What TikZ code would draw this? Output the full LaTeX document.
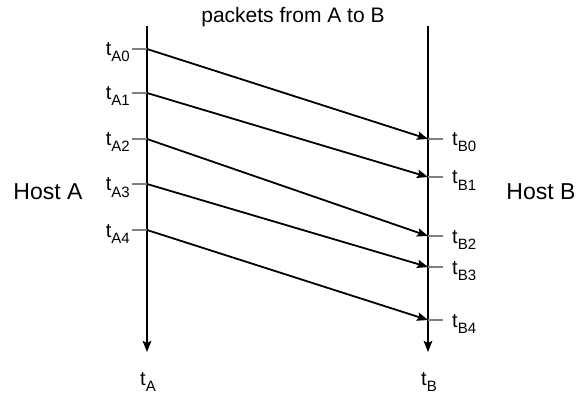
\documentclass[tikz,border=0pt]{standalone}
\usepackage{fontspec}
\setmainfont{Liberation Sans}
\usetikzlibrary{positioning,arrows.meta}
\newcommand{\tlab}[1]{t\raisebox{-6pt}{\fontsize{15}{15}\selectfont #1}}
\begin{document}
\begin{tikzpicture}[x=1pt,y=-1pt,>={Stealth[length=11pt,width=8.5pt,inset=2pt]},
    lbl/.style={font=\fontsize{20}{20}\selectfont, inner sep=0pt},
    title/.style={font=\fontsize{21}{21}\selectfont, inner sep=0pt},
    host/.style={font=\fontsize{23}{23}\selectfont, inner sep=0pt},
    tick/.style={gray, line width=1.2pt},
    pkt/.style={->, line width=1.8pt},
    timeline/.style={->, line width=2.4pt}]
    \useasboundingbox (0,0) rectangle (576,393);

    % 两条时间轴
    \coordinate (A top) at (147,26);
    \coordinate (A end) at (147,352);
    \coordinate (B top) at (428,26);
    \coordinate (B end) at (428,352);
    \draw[timeline] (A top) -- (A end);
    \draw[timeline] (B top) -- (B end);

    % 发送时刻与接收时刻
    \foreach \i/\ya/\yb in {0/49/139, 1/93/177, 2/139/236, 3/184/267, 4/230/320}{
        \coordinate (a\i) at (147,\ya);
        \coordinate (b\i) at (428,\yb);
        \draw[tick] (a\i) -- ++(-15,0) coordinate (ta\i);
        \draw[tick] (b\i) -- ++(15,0) coordinate (tb\i);
        \node[lbl, anchor=base east] (la\i) at ([xshift=-2pt,yshift=-7pt]ta\i) {\tlab{A\i}};
        \node[lbl, anchor=base west] (lb\i) at ([xshift=9pt,yshift=-7pt]tb\i) {\tlab{B\i}};
        \draw[pkt] (a\i) -- (b\i);
    }

    % 标注
    \node[title, anchor=base] (title) at (293,23) {packets from A to B};
    \node[host, anchor=base] (hostA) at (48,200) {Host A};
    \node[host, anchor=base] (hostB) at (541,200) {Host B};
    \node[lbl, anchor=base west] (tA) at ([xshift=-7pt,yshift=-33pt]A end) {\tlab{A}};
    \node[lbl, anchor=base west] (tB) at ([xshift=-7pt,yshift=-33pt]B end) {\tlab{B}};
\end{tikzpicture}
\end{document}
